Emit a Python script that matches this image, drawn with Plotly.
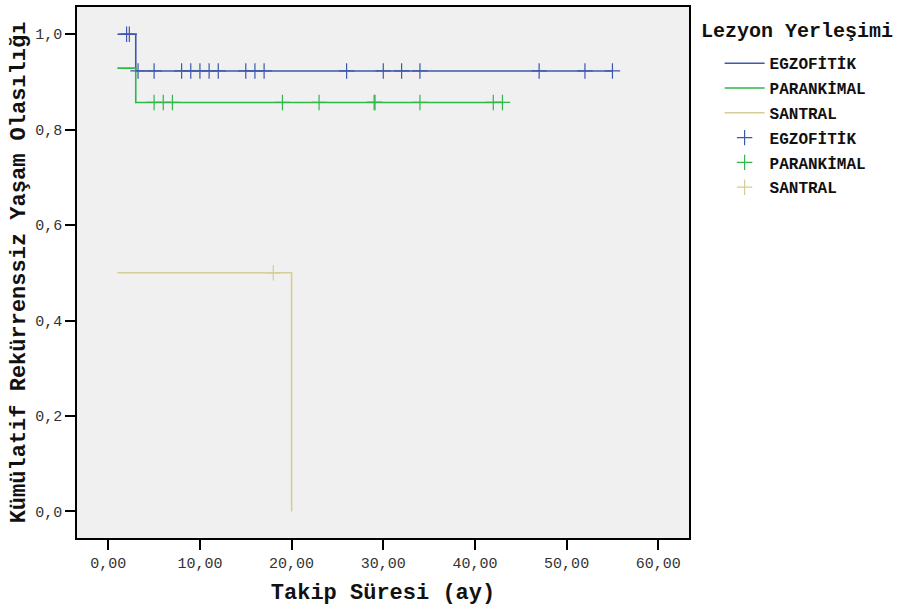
import plotly.graph_objects as go

# ---- data ----
groups = ["EGZOFİTİK", "PARANKİMAL", "SANTRAL"]
colors = ["#3E58AC", "#2EB848", "#D3CE97"]

# step curves (time, survival)
egz_time = [1.0, 3.0, 55.0]
egz_surv = [1.0, 0.923, 0.923]
par_time = [1.0, 3.0, 43.0]
par_surv = [0.929, 0.857, 0.857]
san_time = [1.0, 20.0]
san_surv = [0.5, 0.0]

# censored observations
egz_cens_time = [2.0, 2.3, 3.25, 5, 8, 9, 10, 11, 12, 15, 16, 17, 26, 30, 32, 34, 47, 52, 55]
egz_cens_surv = [1.0, 1.0] + [0.923] * 17
par_cens_time = [5, 6, 7, 19, 23, 29, 29.1, 34, 42, 43]
par_cens_surv = [0.857] * 10
san_cens_time = [18]
san_cens_surv = [0.5]

x_tickvals = [0, 10, 20, 30, 40, 50, 60]
x_ticktext = ["0,00", "10,00", "20,00", "30,00", "40,00", "50,00", "60,00"]
y_tickvals = [0, 0.2, 0.4, 0.6, 0.8, 1.0]
y_ticktext = ["0,0", "0,2", "0,4", "0,6", "0,8", "1,0"]

FONT = "Liberation Mono, Courier New, monospace"

fig = go.Figure()
curves = [(egz_time, egz_surv), (par_time, par_surv), (san_time, san_surv)]
cens = [(egz_cens_time, egz_cens_surv), (par_cens_time, par_cens_surv), (san_cens_time, san_cens_surv)]

for i, (t, s) in enumerate(curves):
    fig.add_trace(go.Scatter(
        x=t, y=s, mode="lines", line=dict(color=colors[i], width=1.6, shape="hv"),
        name=groups[i], legendgroup="l%d" % i, hoverinfo="skip"))
for i, (t, s) in enumerate(cens):
    fig.add_trace(go.Scatter(
        x=t, y=s, mode="markers",
        marker=dict(symbol="cross-thin", size=11, line=dict(color=colors[i], width=1.2)),
        name=groups[i], legendgroup="m%d" % i, hoverinfo="skip"))

fig.update_layout(
    width=900, height=612,
    margin=dict(l=77, r=211, t=5, b=74),
    paper_bgcolor="white", plot_bgcolor="#F0F0F0",
    font=dict(family=FONT, color="#222"),
    showlegend=True,
    legend=dict(x=1.05, y=0.926, xanchor="left", yanchor="top",
                font=dict(family=FONT, size=16, color="#111", weight="bold"),
                traceorder="grouped", tracegroupgap=1,
                bgcolor="rgba(0,0,0,0)", itemwidth=40),
    annotations=[dict(text="<b>Lezyon Yerleşimi</b>", xref="paper", yref="paper",
                      x=1.016, y=0.953, xanchor="left", yanchor="middle", showarrow=False,
                      font=dict(family=FONT, size=20, color="#111"))],
)
fig.update_xaxes(range=[-3.41, 63.35], tickvals=x_tickvals, ticktext=x_ticktext,
                 showgrid=False, zeroline=False, showline=True, linecolor="black",
                 linewidth=1.5, mirror=True, ticks="outside", ticklen=10, tickwidth=1.5,
                 tickcolor="black", tickfont=dict(family=FONT, size=15, color="#333"),
                 title=dict(text="<b>Takip Süresi (ay)</b>", font=dict(family=FONT, size=22, color="#111"),
                            standoff=12))
fig.update_yaxes(range=[-0.0557, 1.057], tickvals=y_tickvals, ticktext=y_ticktext,
                 showgrid=False, zeroline=False, showline=True, linecolor="black",
                 linewidth=1.5, mirror=True, ticks="outside", ticklen=10, tickwidth=1.5,
                 tickcolor="black", tickfont=dict(family=FONT, size=15, color="#333"),
                 title=dict(text="<b>Kümülatif Rekürrenssiz Yaşam Olasılığı</b>",
                            font=dict(family=FONT, size=22, color="#111"), standoff=4))

fig.write_html("out.html", config={"displayModeBar": False},
               post_script="document.body.style.margin='0';")
